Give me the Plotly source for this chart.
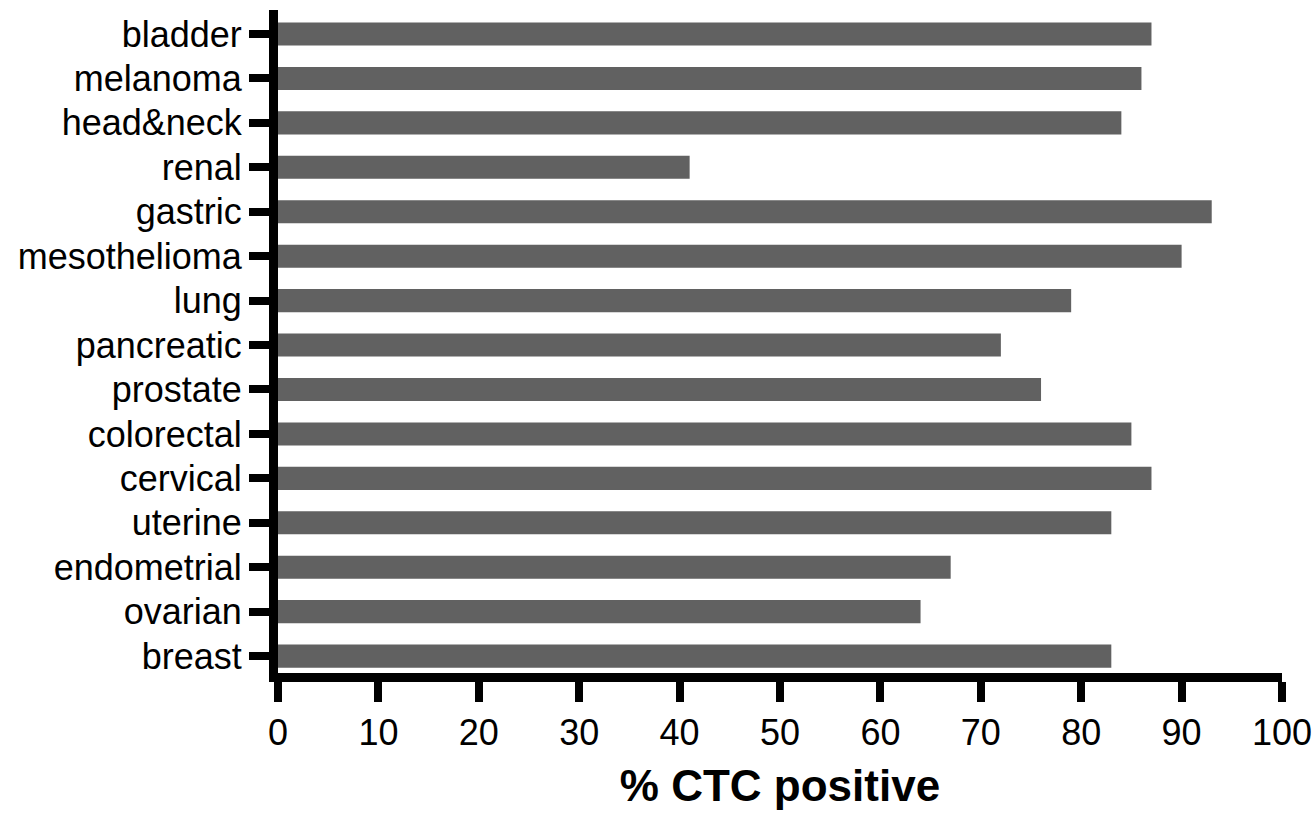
import plotly.graph_objects as go

categories = ["breast", "ovarian", "endometrial", "uterine", "cervical", "colorectal",
              "prostate", "pancreatic", "lung", "mesothelioma", "gastric", "renal",
              "head&neck", "melanoma", "bladder"]
values = [83, 64, 67, 83, 87, 85, 76, 72, 79, 90, 93, 41, 84, 86, 87]
x_ticks = [0, 10, 20, 30, 40, 50, 60, 70, 80, 90, 100]

fig = go.Figure(go.Bar(
    y=categories, x=values, orientation="h",
    marker=dict(color="#616161", line=dict(width=0)),
    width=0.52,
))

font = dict(family="Liberation Sans, Arial, sans-serif", color="black")

fig.update_layout(
    width=1315, height=818,
    margin=dict(l=278, r=33, t=10, b=145, autoexpand=False),
    plot_bgcolor="white", paper_bgcolor="white",
    showlegend=False,
    font=dict(**font, size=36),
    xaxis=dict(
        range=[0, 100], tickvals=x_ticks, ticktext=[str(v) for v in x_ticks],
        showgrid=False, zeroline=False, automargin=False,
        showline=True, linecolor="black", linewidth=9,
        ticks="outside", ticklen=20, tickwidth=8, tickcolor="black",
        tickfont=dict(**font, size=36),
        title=dict(text="<b>% CTC positive</b>", font=dict(**font, size=44), standoff=21),
    ),
    yaxis=dict(
        categoryorder="array", categoryarray=categories,
        range=[-0.38, 14.54], automargin=False,
        showgrid=False, zeroline=False,
        showline=True, linecolor="black", linewidth=9,
        ticks="outside", ticklen=20, tickwidth=8, tickcolor="black",
        tickfont=dict(**font, size=36),
    ),
)

fig.write_html("out.html")
